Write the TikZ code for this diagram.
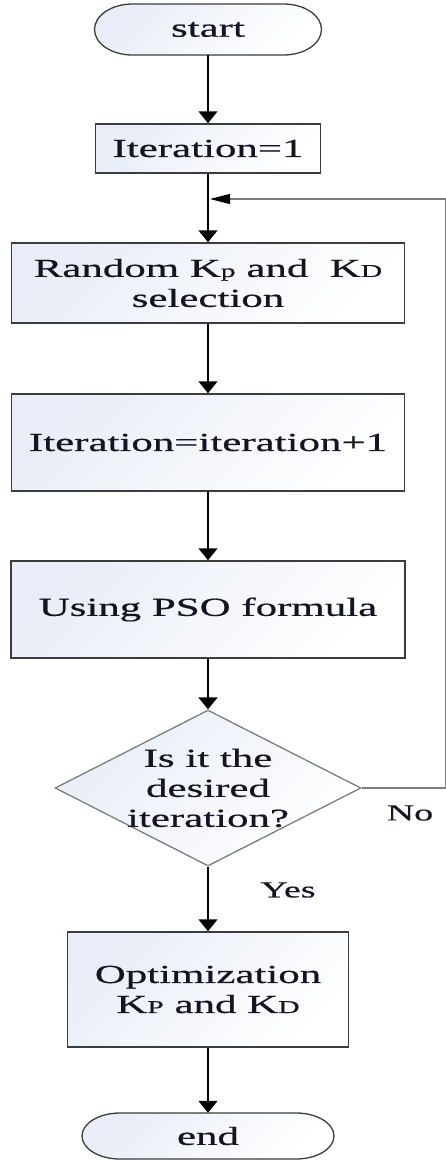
\documentclass[tikz,border=0pt]{standalone}
\usepackage{fontspec}
\setmainfont{Liberation Serif}[FakeStretch=1.65,FakeBold=0.6]
\usetikzlibrary{arrows.meta,shapes.geometric,calc}
\definecolor{shadeblue}{RGB}{232,237,247}
\definecolor{edgegray}{RGB}{60,60,60}
\definecolor{linegray}{RGB}{125,125,125}
\definecolor{inkcol}{RGB}{20,20,35}
\newcommand{\sk}[1]{{\fontsize{18}{18}\selectfont #1}}
\newcommand{\stadium}[4]{%
  \path[termshape] (#1-#3+38,#2+#4) -- (#1+#3-38,#2+#4)
    arc[start angle=90,end angle=-90,x radius=38,y radius=#4]
    -- (#1-#3+38,#2-#4)
    arc[start angle=270,end angle=90,x radius=38,y radius=#4] -- cycle;}
\begin{document}
\begin{tikzpicture}[x=1pt,y=1pt,
  txt/.style={font=\fontsize{26}{30}\selectfont, text=inkcol, align=center},
  procbox/.style={txt, draw=edgegray, line width=1.5pt, rectangle, inner sep=0pt,
    top color=shadeblue, bottom color=white, shading angle=45},
  termtext/.style={txt, inner sep=0pt},
  termshape/.style={draw=edgegray, line width=1.3pt, top color=shadeblue,
    bottom color=white, shading angle=45},
  decision/.style={diamond, draw=linegray, line width=1.3pt, inner sep=0pt,
    top color=shadeblue, bottom color=white, shading angle=45},
  flow/.style={draw=black, line width=1.6pt, -{Triangle[width=19pt,length=12pt]}},
  back/.style={draw=linegray, line width=1.2pt, -{Triangle[width=10pt,length=20pt,color=black]}},
  lab/.style={font=\fontsize{23}{23}\selectfont, text=inkcol}]
\useasboundingbox (0,0) rectangle (446,-1160);

\stadium{208}{-29.5}{113.5}{25.5}
\node[termtext, minimum width=227, minimum height=51] (start) at (208,-29.5) {start};

\node[procbox, minimum width=225, minimum height=49] (it1) at (208,-148.5) {Iteration=1};
\node[procbox, minimum width=393, minimum height=80] (rand) at (208,-283)
  {Random K\sk{p} and\ \ K\sk{D}\\selection};
\node[procbox, minimum width=393, minimum height=97] (iter) at (208,-442.5) {Iteration=iteration+1};
\node[procbox, minimum width=394, minimum height=97] (pso) at (208,-609.5) {Using PSO formula};
\node[decision, minimum width=306, minimum height=156,
  label={[txt]center:{Is it the\\desired\\iteration?}}] (dec) at (208,-788) {};
\node[procbox, minimum width=281, minimum height=115] (opt) at (208,-989.5)
  {Optimization\\K\sk{P} and K\sk{D}};

\stadium{208}{-1136}{126}{23}
\node[termtext, minimum width=252, minimum height=46] (end) at (208,-1136) {end};

\coordinate (join) at (208,-199);

\draw[flow] (start) -- (it1);
\draw[flow] (it1) -- (rand);
\draw[flow] (rand) -- (iter);
\draw[flow] (iter) -- (pso);
\draw[flow] (pso) -- (dec);
\draw[flow] (dec) -- (opt);
\draw[flow] (opt) -- (end);
\draw[back] (dec.east) -- ++(84,0) |- ([xshift=2pt]join);

\node[lab] (no) at (410,-813) {No};
\node[lab] (yes) at (288,-890) {Yes};
\end{tikzpicture}
\end{document}
